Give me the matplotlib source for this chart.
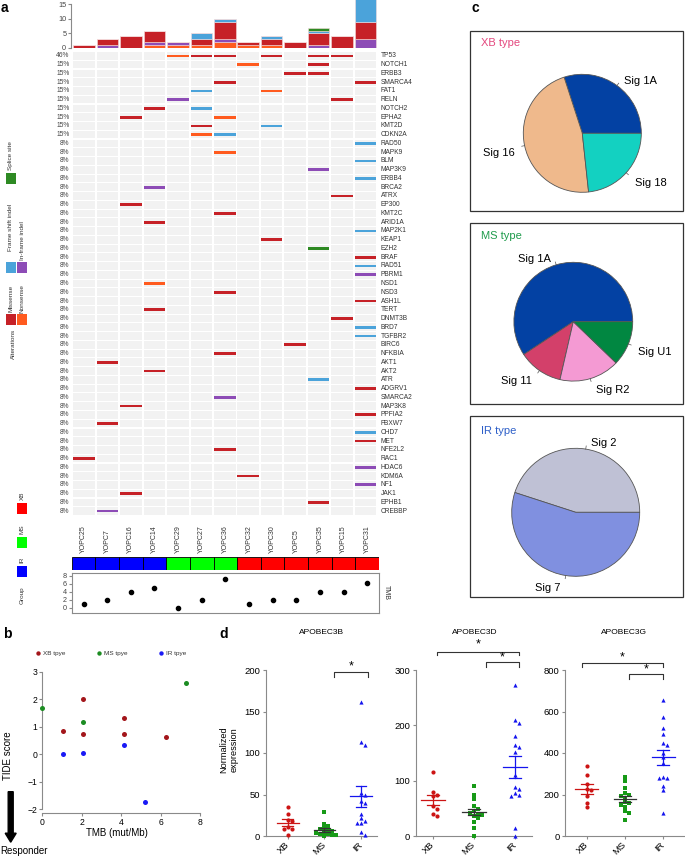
"""Oncoprint, TIDE scatter, signature pies and APOBEC expression panels."""

import matplotlib

matplotlib.use("Agg")
import matplotlib.pyplot as plt
import numpy as np
from matplotlib.patches import FancyArrow, Rectangle

plt.rcParams["font.family"] = ["Liberation Sans", "DejaVu Sans"]

W, H = 685, 857

# ---- panel a data ----
SAMPLES = ["YOPC25", "YOPC7", "YOPC16", "YOPC14", "YOPC29", "YOPC27", "YOPC36",
           "YOPC32", "YOPC30", "YOPC5", "YOPC35", "YOPC15", "YOPC31"]
GROUPS = ["IR", "IR", "IR", "IR", "MS", "MS", "MS", "XB", "XB", "XB", "XB", "XB", "XB"]
TMB = [1, 2, 4, 5, 0, 2, 7.2, 1, 2, 2, 4, 4, 6.2]
GENES = ["TP53", "NOTCH1", "ERBB3", "SMARCA4", "FAT1", "RELN", "NOTCH2", "EPHA2", "KMT2D",
         "CDKN2A", "RAD50", "MAPK9", "BLM", "MAP3K9", "ERBB4", "BRCA2", "ATRX", "EP300",
         "KMT2C", "ARID1A", "MAP2K1", "KEAP1", "EZH2", "BRAF", "RAD51", "PBRM1", "NSD1",
         "NSD3", "ASH1L", "TERT", "DNMT3B", "BRD7", "TGFBR2", "BIRC6", "NFKBIA", "AKT1",
         "AKT2", "ATR", "ADGRV1", "SMARCA2", "MAP3K8", "PPFIA2", "FBXW7", "CHD7", "MET",
         "NFE2L2", "RAC1", "HDAC6", "KDM6A", "NF1", "JAK1", "EPHB1", "CREBBP"]
# one character per sample: M missense, N nonsense, F frame shift, I in-frame, S splice
MUTATIONS = [
    "....NMM.M.MM.", ".......N..M..", ".........MM..", "......M.....M", ".....F..N....",
    "....I......M.", "...M.F.......", "..M...N......", ".....M..F....", ".....NF......",
    "............F", "......N......", "............F", "..........I..", "............F",
    "...I.........", "...........M.", "..M..........", "......M......", "...M.........",
    "............F", "........M....", "..........S..", "............M", "............F",
    "............I", "...N.........", "......M......", "............M", "...M.........",
    "...........M.", "............F", "............F", ".........M...", "......M......",
    ".M...........", "...M.........", "..........F..", "............M", "......I......",
    "..M..........", "............M", ".M...........", "............F", "............M",
    "......M......", "M............", "............I", ".......M.....", "............I",
    "..M..........", "..........M..", ".I...........",
]
MUT_COLORS = {"M": "#C62127", "N": "#FF5B1F", "F": "#4BA3DA", "I": "#8D4CB6", "S": "#2E8A23"}
STACK_ORDER = ["N", "I", "M", "F", "S"]
GROUP_COLORS = {"XB": "#FF0000", "MS": "#00FF00", "IR": "#0000FF"}

# ---- panel b data ----
XB_TMB = [1.05, 2.05, 2.05, 4.15, 4.15, 6.25]
XB_TIDE = [0.83, 2.02, 0.75, 1.30, 0.74, 0.64]
MS_TMB = [0.0, 2.05, 7.3]
MS_TIDE = [1.68, 1.16, 2.58]
IR_TMB = [1.05, 2.05, 4.15, 5.2]
IR_TIDE = [0.01, 0.05, 0.34, -1.75]

# ---- panel c data ----
XB_SIGS = ["Sig 1A", "Sig 16", "Sig 18"]
XB_FRAC = [0.300, 0.467, 0.233]
MS_SIGS = ["Sig 1A", "Sig 11", "Sig R2", "Sig U1"]
MS_FRAC = [0.593, 0.121, 0.164, 0.122]
IR_SIGS = ["Sig 2", "Sig 7"]
IR_FRAC = [0.45, 0.55]

# ---- panel d data ----
A3B_XB = [35, 27, 19, 18, 11, 9, 8, 1]
A3B_MS = [29, 15, 12, 10, 8, 7, 6, 5, 4, 3, 2, 1, 1, 0]
A3B_IR = [162, 113, 110, 52, 50, 42, 40, 27, 22, 18, 16, 16, 5, 1]
A3D_XB = [116, 80, 75, 72, 55, 48, 40, 37]
A3D_MS = [90, 75, 67, 55, 48, 45, 42, 40, 38, 36, 32, 25, 15, 0]
A3D_IR = [272, 210, 205, 180, 165, 160, 152, 110, 88, 85, 78, 75, 72, 15, 0]
A3G_XB = [335, 295, 250, 225, 220, 195, 160, 140]
A3G_MS = [285, 265, 230, 205, 200, 195, 185, 165, 160, 150, 140, 120, 110, 75]
A3G_IR = [655, 575, 520, 490, 450, 440, 400, 380, 350, 285, 280, 280, 240, 220, 110]

fig = plt.figure(figsize=(W / 100, H / 100), dpi=100)


def px_axes(x0, y0, x1, y1):
    return fig.add_axes([x0 / W, 1 - y1 / H, (x1 - x0) / W, (y1 - y0) / H])


GRAY = "#8a8a8a"

# ================= panel a =================
n_s = len(SAMPLES)
ax = px_axes(72.5, 51.6, 377, 515.4)
ax.set_xlim(0, n_s)
ax.set_ylim(len(GENES), 0)
ax.axis("off")
for i, (gene, row) in enumerate(zip(GENES, MUTATIONS)):
    for j, code in enumerate(row):
        ax.add_patch(Rectangle((j + 0.04, i + 0.07), 0.92, 0.86, color="#F2F2F2", lw=0))
        if code != ".":
            ax.add_patch(Rectangle((j + 0.04, i + 0.34), 0.92, 0.32, color=MUT_COLORS[code], lw=0))
    n = sum(c != "." for c in row)
    ax.text(-0.12, i + 0.5, f"{round(100 * n / n_s)}%", ha="right", va="center",
            fontsize=4.8, color="#444444")
    ax.text(n_s + 0.15, i + 0.5, gene, ha="left", va="center", fontsize=4.8, color="#333333")

# stacked counts on top
columns = ["".join(r[j] for r in MUTATIONS) for j in range(n_s)]
axb = px_axes(72.5, 0, 377, 48)
x = np.arange(n_s) + 0.5
bottom = np.zeros(n_s)
for t in STACK_ORDER:
    h = np.array([col.count(t) for col in columns])
    axb.bar(x, h, 0.92, bottom=bottom, color=MUT_COLORS[t], edgecolor="#f4dcdc", lw=0.4)
    bottom += h
axb.set_xlim(0, n_s)
axb.set_ylim(0, 16.55)
for s in ("top", "right", "bottom"):
    axb.spines[s].set_visible(False)
axb.spines["left"].set_bounds(0, 15)
axb.spines["left"].set_color(GRAY)
axb.spines["left"].set_position(("outward", 1))
axb.set_xticks([])
axb.set_yticks([0, 5, 10, 15])
axb.tick_params(axis="y", labelsize=5.2, length=2.5, color=GRAY, labelcolor="#444444", pad=1)

# group bar
axg = px_axes(71.7, 556.7, 379, 570.3)
axg.set_xlim(0, n_s)
axg.set_ylim(0, 1)
axg.axis("off")
for j, (smp, g) in enumerate(zip(SAMPLES, GROUPS)):
    axg.add_patch(Rectangle((j, 0), 1, 1, fc=GROUP_COLORS[g], ec="black", lw=0.6))
    axg.text(j + 0.5, 1.27, smp, rotation=90, ha="center", va="bottom", fontsize=5,
             color="#333333", clip_on=False)

# TMB track
axt = px_axes(71.7, 572.7, 379, 612.7)
axt.scatter(x, TMB, s=9, color="black", zorder=3)
axt.set_xlim(0, n_s)
axt.set_ylim(-1.25, 8.75)
axt.set_xticks([])
axt.set_yticks([0, 2, 4, 6, 8])
axt.tick_params(axis="y", labelsize=5.2, length=2.5, color=GRAY, labelcolor="#444444", pad=1)
for s in axt.spines.values():
    s.set_color(GRAY)
    s.set_linewidth(0.8)
axt.text(1.012, 0.5, "TMB", transform=axt.transAxes, rotation=-90, ha="left", va="center",
         fontsize=5, color="#333333")

# ================= panel b =================
axs = px_axes(42.3, 671.7, 200, 813.4)
for tx, ty, col in ((XB_TMB, XB_TIDE, "#A3161B"), (MS_TMB, MS_TIDE, "#1C8C22"),
                    (IR_TMB, IR_TIDE, "#1A1AF5")):
    axs.scatter(tx, ty, s=13, color=col, clip_on=False, zorder=3, lw=0)
axs.set_xlim(0, 8)
axs.set_ylim(-2.149, 3.0)
axs.spines["top"].set_visible(False)
axs.spines["right"].set_visible(False)
axs.spines["left"].set_bounds(-2, 3)
axs.spines["bottom"].set_bounds(0, 8)
for s in ("left", "bottom"):
    axs.spines[s].set_color(GRAY)
    axs.spines[s].set_linewidth(0.8)
axs.set_xticks([0, 2, 4, 6, 8])
axs.set_yticks([-2, -1, 0, 1, 2, 3])
axs.tick_params(labelsize=6.2, length=2.5, color=GRAY, pad=1)

# ================= panel c =================
PIES = [
    (XB_SIGS, XB_FRAC, ["#0341A3", "#EFB98C", "#13D1C1"], (582.3, 133.3), 59),
    (MS_SIGS, MS_FRAC, ["#0341A3", "#D3406A", "#F49AD3", "#018741"], (573.3, 321.7), 59.4),
    (IR_SIGS, IR_FRAC, ["#BFC1D5", "#8090E0"], (575.7, 512.3), 64),
]
for labels, fracs, cols, (cx, cy), r in PIES:
    axp = px_axes(cx - r, cy - r, cx + r, cy + r)
    axp.pie(fracs, colors=cols, startangle=0, counterclock=True, radius=1,
            wedgeprops=dict(edgecolor="#555555", linewidth=0.6))
    axp.set_xlim(-1, 1)
    axp.set_ylim(-1, 1)
    axp.axis("off")
    cum = np.concatenate([[0], np.cumsum(fracs)])
    for k, lab in enumerate(labels):
        th = np.pi * (cum[k] + cum[k + 1])
        c, s = np.cos(th), np.sin(th)
        axp.plot([c, 1.05 * c], [s, 1.05 * s], color="#555555", lw=0.5, clip_on=False)
        pad = 4 / r if c > 0 else -4 / r
        drop = 6 / r if s < 0 else 0
        axp.text(1.1 * c + pad, 1.1 * s - drop, lab, ha="left" if c > 0 else "right",
                 va="center", fontsize=8, clip_on=False)

# ================= panel d =================
D_PANELS = [
    ("APOBEC3B", (A3B_XB, A3B_MS, A3B_IR), (265.7, 376.7), (0.39, 3.43), 200, [0, 50, 100, 150, 200],
     [(2.27, 3.18, 198, 191, 204)], 322),
    ("APOBEC3D", (A3D_XB, A3D_MS, A3D_IR), (415.7, 531.7), (0.58, 3.41), 300, [0, 100, 200, 300],
     [(1.1, 3.1, 333, 327, 347), (2.3, 3.1, 315, 306, 323)], 475),
    ("APOBEC3G", (A3G_XB, A3G_MS, A3G_IR), (565, 685), (0.43, 3.57), 800, [0, 200, 400, 600, 800],
     [(0.87, 3.0, 832, 813, 860), (2.1, 3.0, 781, 755, 801)], 624),
]
D_STYLE = [("o", "#CC1414", "#CC1414"), ("s", "#179A17", "#333333"), ("^", "#1414EE", "#1414EE")]


def swarm(vals, ymax, pitch_px, d=4.0):
    ypx = np.asarray(vals, dtype=float) / ymax * 166
    placed = []
    offs = np.zeros(len(vals))
    for k in np.argsort(-ypx):
        for m in range(30):
            cand = ((m + 1) // 2) * d * (1 if m % 2 else -1)
            if all((cand - ox) ** 2 + (ypx[k] - oy) ** 2 >= d * d for ox, oy in placed):
                break
        placed.append((cand, ypx[k]))
        offs[k] = cand / pitch_px
    return offs


for title, groups, (x0, x1), xl, ymax, yt, brackets, tx in D_PANELS:
    axd = px_axes(x0, 670, x1, 836)
    pitch = (x1 - x0) / (xl[1] - xl[0])
    for g, (vals, (mk, col, mcol)) in enumerate(zip(groups, D_STYLE), start=1):
        v = np.asarray(vals, dtype=float)
        axd.scatter(g + swarm(v, ymax, pitch), v, marker=mk, s=9, color=col, lw=0,
                    clip_on=False, zorder=3)
        m = v.mean()
        sem = v.std(ddof=1) / np.sqrt(len(v))
        axd.plot([g - 0.3, g + 0.3], [m, m], color=mcol, lw=0.9, zorder=4)
        axd.plot([g, g], [m - sem, m + sem], color=mcol, lw=0.9, zorder=4)
        for yy in (m - sem, m + sem):
            axd.plot([g - 0.15, g + 0.15], [yy, yy], color=mcol, lw=0.9, zorder=4)
    for bx1, bx2, by, bd, sy in brackets:
        axd.plot([bx1, bx1, bx2, bx2], [bd, by, by, bd], color="#333333", lw=0.8, clip_on=False)
        axd.text((bx1 + bx2) / 2, sy, "*", ha="center", va="center", fontsize=9, clip_on=False)
    axd.set_xlim(*xl)
    axd.set_ylim(0, ymax)
    axd.spines["top"].set_visible(False)
    axd.spines["right"].set_visible(False)
    for s in ("left", "bottom"):
        axd.spines[s].set_color(GRAY)
        axd.spines[s].set_linewidth(0.8)
    axd.set_yticks(yt)
    axd.set_xticks([1, 2, 3])
    axd.set_xticklabels(["XB", "MS", "IR"], rotation=45, ha="right", va="center",
                        rotation_mode="anchor")
    axd.tick_params(labelsize=6.8, length=2.5, color=GRAY, pad=1.5)
    axd.tick_params(axis="x", pad=3)
    fig.text(tx / W, 1 - 633 / H, title, ha="center", va="center", fontsize=6)

# ================= overlay: labels and legends =================
ov = fig.add_axes([0, 0, 1, 1])
ov.set_xlim(0, W)
ov.set_ylim(H, 0)
ov.axis("off")

for lab, px, py in (("a", 1, 0.5), ("b", 3, 627), ("c", 472, 0.5), ("d", 219, 627)):
    ov.text(px, py, lab, fontsize=10, fontweight="bold", va="top", ha="left")

# mutation legend
legend_sq = [
    (6, 173, "S", "Splice site", 11, 170),
    (6, 262, "F", "Frame shift indel", 11, 251),
    (17.3, 262, "I", "In-frame indel", 22.5, 260),
    (6, 314, "M", "Missense", 11, 312),
    (17.3, 314, "N", "Nonsense", 22.5, 313),
]
for sx, sy, code, lab, lx, ly in legend_sq:
    ov.add_patch(Rectangle((sx, sy), 10, 10.5, color=MUT_COLORS[code], lw=0))
    ov.text(lx, ly, lab, rotation=90, ha="center", va="bottom", fontsize=4.6, color="#333333")
ov.text(13.3, 329, "Alterations", rotation=90, ha="center", va="top", fontsize=4.6, color="#333333")

# group legend
for g, sy in (("XB", 503), ("MS", 537), ("IR", 566)):
    ov.add_patch(Rectangle((16.7, sy), 10.6, 10.5, color=GROUP_COLORS[g], lw=0))
    ov.text(22, sy - 3, g, rotation=90, ha="center", va="bottom", fontsize=4.6, color="#333333")
ov.text(22, 586, "Group", rotation=90, ha="center", va="top", fontsize=4.6, color="#333333")

# panel b legend and labels
for dx, lab, col in ((38.3, "XB tpye", "#A3161B"), (99, "MS tpye", "#1C8C22"),
                     (160.7, "IR tpye", "#1A1AF5")):
    ov.scatter([dx], [653.3], s=10, color=col, lw=0)
    ov.text(dx + 5, 653.3, lab, va="center", ha="left", fontsize=4.6, color="#333333")
ov.text(116.7, 833.5, "TMB (mut/Mb)", ha="center", va="center", fontsize=7)
ov.text(8.3, 756, "TIDE score", rotation=90, ha="center", va="center", fontsize=7)
ov.add_patch(FancyArrow(10.7, 791.7, 0, 50.5, width=5, head_width=11, head_length=9,
                        length_includes_head=True, color="black"))
ov.text(24, 851, "Responder", ha="center", va="center", fontsize=7)

# panel d y label
ov.text(229, 749.5, "Normalized\nexpression", rotation=90, ha="center", va="center",
        fontsize=6.6, linespacing=1.1)

# panel c frames and titles
for (y0, y1), lab, col, ty in (((30.7, 211), "XB type", "#E4487E", 43.3),
                               ((223, 404), "MS type", "#1E9B4B", 236),
                               ((416, 596.7), "IR type", "#2D5FC8", 430.5)):
    ov.add_patch(Rectangle((470, y0), 213.5, y1 - y0, fill=False, ec="#333333", lw=0.9))
    ov.text(481, ty, lab, color=col, fontsize=8, va="center", ha="left")

fig.savefig("out.png", dpi=100)
